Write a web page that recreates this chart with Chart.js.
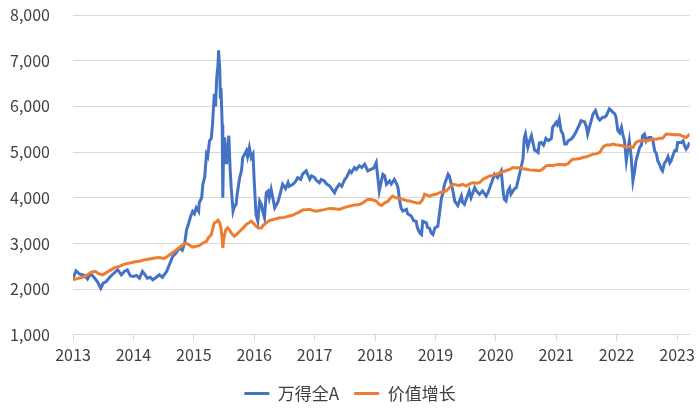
<!DOCTYPE html>
<html>
<head>
<meta charset="utf-8">
<script src="https://cdn.jsdelivr.net/npm/chart.js@4.4.1/dist/chart.umd.min.js"></script>
<style>
html,body{margin:0;padding:0;background:#fff;}
#wrap{width:700px;height:412px;}
</style>
</head>
<body>
<div id="wrap"><canvas id="c" width="700" height="412"></canvas></div>
<script>
const seriesNames = ['万得全A', '价值增长'];
const yearTicks = [2013,2014,2015,2016,2017,2018,2019,2020,2021,2022,2023];

const blueDates = [
2013.00,2013.05,2013.11,2013.19,2013.24,2013.29,2013.36,2013.41,2013.46,2013.50,2013.55,2013.60,2013.65,2013.74,2013.80,2013.85,2013.90,2013.95,
2014.00,2014.05,2014.10,2014.15,2014.20,2014.23,2014.28,2014.32,2014.37,2014.43,2014.48,2014.55,2014.60,2014.65,2014.70,2014.76,2014.81,2014.85,2014.88,2014.91,2014.95,2014.98,
2015.01,2015.04,2015.08,2015.09,2015.13,2015.15,2015.18,2015.21,2015.23,2015.26,2015.29,2015.31,2015.34,2015.36,2015.38,2015.40,2015.41,2015.43,2015.44,2015.45,2015.47,2015.48,2015.49,2015.51,2015.54,2015.56,2015.58,2015.60,2015.62,2015.65,2015.67,2015.70,2015.72,2015.76,2015.79,2015.81,2015.84,2015.87,2015.89,2015.92,2015.95,2015.98,
2016.00,2016.03,2016.06,2016.09,2016.12,2016.14,2016.17,2016.20,2016.23,2016.25,2016.28,2016.34,2016.39,2016.42,2016.47,2016.52,2016.56,2016.58,2016.64,2016.68,2016.72,2016.77,2016.80,2016.86,2016.92,2016.95,
2017.00,2017.03,2017.08,2017.11,2017.16,2017.20,2017.25,2017.28,2017.33,2017.36,2017.41,2017.45,2017.50,2017.53,2017.58,2017.61,2017.66,2017.69,2017.74,2017.78,2017.83,2017.88,2017.94,2017.98,
2018.02,2018.05,2018.07,2018.13,2018.16,2018.19,2018.24,2018.27,2018.32,2018.36,2018.38,2018.41,2018.43,2018.46,2018.52,2018.54,2018.60,2018.64,2018.68,2018.70,2018.74,2018.77,2018.79,2018.85,2018.87,2018.90,2018.93,2018.96,2018.99,
2019.04,2019.10,2019.12,2019.15,2019.21,2019.23,2019.29,2019.32,2019.37,2019.43,2019.45,2019.48,2019.54,2019.56,2019.59,2019.65,2019.68,2019.73,2019.78,2019.84,2019.87,2019.92,2019.98,
2020.03,2020.09,2020.12,2020.14,2020.17,2020.20,2020.23,2020.25,2020.31,2020.34,2020.39,2020.45,2020.47,2020.49,2020.53,2020.56,2020.59,2020.64,2020.70,2020.72,2020.75,2020.79,2020.83,2020.87,2020.92,2020.94,
2021.00,2021.02,2021.05,2021.08,2021.11,2021.14,2021.17,2021.20,2021.25,2021.29,2021.33,2021.39,2021.41,2021.47,2021.50,2021.52,2021.58,2021.61,2021.65,2021.69,2021.72,2021.77,2021.80,2021.83,2021.88,2021.91,2021.93,2021.97,2021.99,
2022.02,2022.05,2022.08,2022.10,2022.13,2022.16,2022.18,2022.21,2022.24,2022.27,2022.30,2022.32,2022.35,2022.38,2022.41,2022.43,2022.46,2022.49,2022.51,2022.54,2022.57,2022.60,2022.63,2022.66,2022.68,2022.71,2022.74,2022.76,2022.79,2022.82,2022.85,2022.88,2022.90,2022.93,2022.96,2022.99,
2023.01,2023.07,2023.10,2023.12,2023.15,2023.17,2023.21
];
const blueValues = [
2239,2402,2330,2300,2220,2340,2240,2150,2019,2130,2167,2250,2314,2424,2314,2387,2424,2290,
2277,2300,2239,2387,2300,2239,2260,2204,2250,2314,2260,2387,2550,2717,2780,2900,2850,3010,3300,3420,3600,3700,
3650,3780,3700,3890,4000,4295,4450,4955,4900,5248,5300,5615,6276,6000,6641,6900,7229,6800,6200,6400,5600,4000,4800,5320,4735,5000,5358,4660,4200,3707,3800,3853,4100,4440,4600,4880,4950,5028,4900,5100,4880,4955,
4367,3635,3487,3927,3850,3707,3560,4110,4147,4000,4185,3780,3900,4037,4295,4200,4330,4250,4295,4350,4440,4400,4515,4588,4405,4480,
4440,4380,4330,4400,4367,4300,4257,4200,4110,4200,4295,4250,4405,4450,4588,4550,4660,4620,4698,4660,4735,4588,4625,4650,
4770,4400,4147,4515,4480,4295,4367,4300,4400,4300,4220,3927,3780,3707,3745,3650,3600,3500,3487,3350,3230,3194,3487,3450,3350,3340,3230,3194,3340,
3377,4000,4075,4295,4515,4478,4147,3927,3830,4037,3900,3854,4075,4150,4000,4220,4150,4075,4150,4037,4110,4295,4515,
4440,4588,4147,3965,3927,4147,4220,4075,4200,4220,4500,4850,5300,5395,5100,5248,5358,5050,4990,5200,5210,5150,5300,5250,5300,5541,
5650,5600,5725,5468,5395,5175,5175,5250,5285,5350,5450,5615,5688,5660,5550,5395,5688,5835,5908,5750,5700,5761,5761,5800,5945,5908,5880,5835,5761,
5468,5420,5541,5400,5248,4808,5000,5248,4900,4367,4600,4808,4950,5100,5150,5358,5395,5248,5300,5320,5320,5248,5028,4955,4808,4735,4625,4588,4750,4808,4900,4760,4800,4918,5028,5028,
5210,5210,5248,5150,5065,5100,5210
];

const orangeDates = [
2013.00,2013.07,2013.16,2013.24,2013.32,2013.37,2013.42,2013.49,2013.54,2013.60,2013.69,2013.77,2013.85,2013.94,
2014.03,2014.10,2014.18,2014.27,2014.35,2014.43,2014.50,2014.55,2014.60,2014.68,2014.73,2014.81,2014.87,2014.93,2014.98,
2015.04,2015.09,2015.14,2015.21,2015.24,2015.29,2015.31,2015.34,2015.38,2015.40,2015.43,2015.45,2015.47,2015.48,2015.49,2015.51,2015.53,2015.56,2015.59,2015.62,2015.67,2015.71,2015.76,2015.81,2015.87,2015.91,2015.95,2015.99,
2016.03,2016.07,2016.12,2016.15,2016.20,2016.25,2016.31,2016.37,2016.42,2016.50,2016.58,2016.64,2016.70,2016.75,2016.80,2016.87,2016.92,2016.97,
2017.03,2017.08,2017.16,2017.25,2017.33,2017.41,2017.50,2017.58,2017.66,2017.74,2017.79,2017.84,2017.88,2017.94,
2018.02,2018.07,2018.11,2018.16,2018.21,2018.24,2018.29,2018.35,2018.41,2018.46,2018.52,2018.57,2018.62,2018.68,2018.74,2018.79,2018.82,2018.87,2018.90,2018.95,
2019.01,2019.07,2019.13,2019.18,2019.23,2019.29,2019.35,2019.40,2019.45,2019.51,2019.56,2019.62,2019.68,2019.73,2019.79,2019.84,2019.90,2019.95,
2020.01,2020.06,2020.14,2020.23,2020.28,2020.34,2020.39,2020.44,2020.50,2020.56,2020.64,2020.72,2020.77,2020.83,2020.89,2020.94,2020.99,
2021.05,2021.14,2021.19,2021.22,2021.27,2021.33,2021.39,2021.44,2021.50,2021.55,2021.61,2021.66,2021.72,2021.77,2021.80,2021.85,2021.88,2021.94,2021.98,
2022.05,2022.10,2022.16,2022.21,2022.27,2022.32,2022.38,2022.43,2022.49,2022.54,2022.60,2022.66,2022.71,2022.76,2022.82,2022.88,2022.96,
2023.04,2023.09,2023.15,2023.17,2023.21
];
const orangeValues = [
2204,2230,2260,2314,2380,2387,2340,2314,2350,2400,2470,2497,2547,2570,
2600,2610,2640,2660,2680,2690,2670,2700,2754,2830,2880,2960,3010,2960,2920,
2937,2950,3000,3047,3120,3194,3300,3450,3480,3510,3450,3340,3100,2900,3050,3194,3300,3340,3290,3230,3157,3200,3267,3330,3414,3450,3487,3440,
3377,3340,3340,3400,3450,3500,3524,3540,3560,3570,3600,3620,3660,3690,3730,3740,3745,3720,
3707,3720,3740,3767,3760,3745,3790,3817,3840,3854,3880,3930,3965,3960,
3927,3854,3830,3890,3920,3965,4037,4000,3980,3965,3940,3927,3910,3890,3880,3960,4075,4050,4037,4060,
4075,4110,4130,4147,4220,4295,4280,4270,4295,4257,4300,4330,4320,4330,4405,4440,4478,4490,
4515,4540,4580,4620,4660,4650,4660,4640,4625,4610,4600,4590,4620,4698,4710,4700,4720,
4735,4720,4740,4780,4845,4850,4860,4880,4896,4920,4955,4960,4990,5100,5138,5160,5150,5175,5160,
5150,5138,5100,5120,5100,5210,5248,5250,5248,5260,5285,5280,5300,5300,5395,5390,5380,
5380,5350,5320,5340,5395
];

const toPoints = (xs, ys) => xs.map((x, i) => ({ x: x, y: ys[i] }));
const FONT = '"Noto Sans CJK SC", "Noto Sans", sans-serif';
const TEXT = '#404040';
const GRID = '#D9D9D9';

new Chart(document.getElementById('c'), {
  type: 'line',
  data: {
    datasets: [
      { label: seriesNames[0], data: toPoints(blueDates, blueValues), borderColor: '#4472C4', backgroundColor: '#4472C4',
        borderWidth: 3, pointRadius: 0, pointStyle: 'line', tension: 0, order: 1 },
      { label: seriesNames[1], data: toPoints(orangeDates, orangeValues), borderColor: '#ED7D31', backgroundColor: '#ED7D31',
        borderWidth: 3, pointRadius: 0, pointStyle: 'line', tension: 0, order: 0 }
    ]
  },
  options: {
    responsive: false,
    animation: false,
    devicePixelRatio: 1,
    layout: { padding: { left: 0, right: 0, top: 15, bottom: 0 } },
    plugins: {
      tooltip: { enabled: false },
      legend: {
        position: 'bottom',
        labels: {
          usePointStyle: true, pointStyleWidth: 25, boxHeight: 16,
          color: TEXT, font: { family: FONT, size: 17 }, padding: 15,
          sort: (a, b) => a.datasetIndex - b.datasetIndex
        }
      }
    },
    scales: {
      x: {
        type: 'linear', min: 2013, max: 2023.21,
        afterBuildTicks: s => { s.ticks = yearTicks.map(v => ({ value: v })); },
        grid: { drawOnChartArea: false, drawTicks: true, tickLength: 6, color: GRID },
        border: { display: true, color: GRID, width: 1 },
        ticks: { color: TEXT, font: { family: FONT, size: 16 }, padding: 5, maxRotation: 0, autoSkip: false,
          callback: v => String(v) }
      },
      y: {
        min: 1000, max: 8000,
        afterFit: s => { s.width = 73; },
        grid: { color: GRID, drawTicks: true, tickLength: 20, tickColor: 'rgba(0,0,0,0)', lineWidth: 1 },
        border: { display: false },
        ticks: { stepSize: 1000, color: TEXT, font: { family: FONT, size: 16 }, padding: 3,
          callback: v => v.toLocaleString('en-US') }
      },
      yRight: {
        position: 'right', display: true,
        afterFit: s => { s.width = 10; },
        grid: { display: false }, border: { display: false },
        ticks: { display: false }
      }
    }
  }
});
</script>
</body>
</html>
